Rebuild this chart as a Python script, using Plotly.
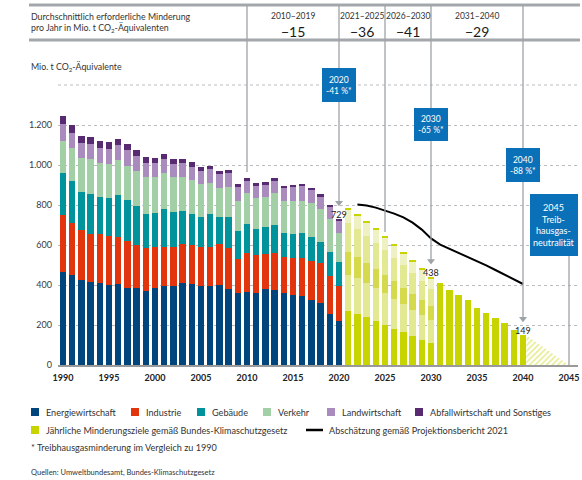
import plotly.graph_objects as go

# ---------------- data ----------------
years_hist = list(range(1990, 2021))
energie = [463, 450, 425, 415, 408, 400, 405, 387, 387, 370, 387, 397, 395, 410, 405, 397,
           397, 400, 380, 358, 367, 362, 378, 376, 358, 350, 345, 325, 312, 255, 220]
industrie = [287, 258, 250, 240, 247, 245, 237, 235, 215, 213, 205, 195, 197, 193, 197, 191,
             195, 205, 203, 170, 191, 188, 177, 182, 184, 187, 192, 197, 196, 190, 173]
gebaeude = [212, 212, 188, 198, 183, 188, 206, 203, 193, 172, 166, 186, 173, 165, 153, 154,
            163, 133, 155, 142, 145, 130, 137, 142, 116, 118, 125, 120, 109, 118, 120]
verkehr = [160, 163, 170, 175, 174, 172, 177, 172, 177, 187, 180, 180, 173, 170, 170, 163,
           153, 145, 150, 152, 155, 153, 150, 158, 164, 165, 158, 166, 161, 165, 146]
landwirtschaft = [85, 79, 77, 77, 74, 77, 73, 76, 73, 68, 72, 71, 68, 70, 67, 64,
                  70, 71, 70, 69, 62, 63, 59, 64, 64, 70, 73, 65, 66, 63, 61]
abfall = [38, 38, 37, 37, 36, 35, 34, 32, 30, 28, 27, 26, 24, 22, 21, 19,
          17, 16, 15, 14, 13, 12, 12, 11, 11, 10, 10, 10, 9, 9, 9]

years_ksg = list(range(2021, 2031))
ksg_energie = [268, 257, 238, 220, 201, 182, 164, 145, 127, 108]
ksg_industrie = [182, 177, 172, 165, 157, 149, 140, 132, 125, 118]
ksg_gebaeude = [113, 108, 102, 97, 92, 87, 82, 77, 72, 67]
ksg_verkehr = [145, 139, 134, 128, 123, 117, 112, 105, 96, 85]
ksg_landwirtschaft = [68, 67, 66, 65, 64, 63, 61, 60, 58, 56]
ksg_abfall = [9, 8, 8, 7, 7, 6, 6, 5, 5, 4]

years_ksg_total = list(range(2031, 2041))
ksg_total = [412, 375, 350, 325, 287, 262, 237, 212, 175, 149]
neutrality_year = 2045

proj_years = list(range(2022, 2041))
proj_values = [803, 797, 787, 773, 757, 738, 712, 677, 633, 602, 582, 562, 541, 520,
               498, 475, 452, 428, 405]

period_bounds = [2010, 2020, 2025, 2030, 2040]
period_labels = ["2010–2019", "2021–2025", "2026–2030", "2031–2040"]
period_values = ["−15", "−36", "−41", "−29"]

milestone_years = [2020, 2030, 2040]
milestone_texts = ["2020<br>-41 %*", "2030<br>-65 %*", "2040<br>-88 %*"]
neutrality_text = "2045<br>Treib-<br>hausgas-<br>neutralität"

sector_names = ["Energiewirtschaft", "Industrie", "Gebäude", "Verkehr",
                "Landwirtschaft", "Abfallwirtschaft und Sonstiges"]
sector_colors = ["#00457c", "#e2340d", "#00939b", "#a2cfa5", "#a98bbd", "#582a72"]
ksg_colors = ["#c8d400", "#e3e893", "#d4da4c", "#e3e893", "#eef1c2", "#c8d400"]
ksg_color = "#c8d400"

y_ticks = [0, 200, 400, 600, 800, 1000, 1200]
y_ticktext = ["0", "200", "400", "600", "800", "1.000", "1.200"]
y_top_grid = 1400
x_ticks = list(range(1990, 2046, 5))

# ---------------- geometry helpers ----------------
W, H = 582, 480
L, R, T, B = 58, 4, 5, 115
PW, PH = W - L - R, H - T - B
PX_PER_YEAR = 9.2
X0 = 1990 - (63 - L) / PX_PER_YEAR
X1 = X0 + PW / PX_PER_YEAR
Y1 = 1800  # top of plot area (value units), 5 units per px


def paper_x(px):
    return (px - L) / PW


def paper_y(py):
    return (H - B - py) / PH


def val(py):
    return (H - B - py) * Y1 / PH


def yrs(px_w):
    return px_w / PX_PER_YEAR


FONT = "Lato, Roboto, sans-serif"
TXT = "#333333"
LINEGRAY = "#9ea3a8"
BLUE = "#0a71b8"
GRIDCOL = "#bdbdbd"

fig = go.Figure()

hist_series = [energie, industrie, gebaeude, verkehr, landwirtschaft, abfall]
ksg_series = [ksg_energie, ksg_industrie, ksg_gebaeude, ksg_verkehr, ksg_landwirtschaft, ksg_abfall]
for name, vals, col in zip(sector_names, hist_series, sector_colors):
    fig.add_trace(go.Bar(x=years_hist, y=vals, name=name, marker=dict(color=col, line=dict(width=0)),
                         showlegend=False))
for name, vals, col in zip(sector_names, ksg_series, ksg_colors):
    fig.add_trace(go.Bar(x=years_ksg, y=vals, name="KSG " + name,
                         marker=dict(color=col, line=dict(width=0)), showlegend=False))
fig.add_trace(go.Bar(x=years_ksg_total, y=ksg_total, name="Jährliche Minderungsziele",
                     marker=dict(color=ksg_color, line=dict(width=0)), showlegend=False))

# hatched path to neutrality
bar_half = 0.35
fig.add_trace(go.Scatter(
    x=[years_ksg_total[-1] + bar_half, neutrality_year, years_ksg_total[-1] + bar_half],
    y=[ksg_total[-1], 0, 0], mode="lines", fill="toself", line=dict(width=0),
    fillcolor="rgba(0,0,0,0)",
    fillpattern=dict(shape="/", fgcolor=ksg_color, bgcolor="white", size=4, solidity=0.35),
    hoverinfo="skip", showlegend=False))

# projection line
fig.add_trace(go.Scatter(x=proj_years, y=proj_values, mode="lines",
                         line=dict(color="black", width=2), showlegend=False))

shapes = []
annotations = []

# top (unlabelled) gridline
shapes.append(dict(type="line", xref="paper", yref="y", x0=0, x1=1, y0=y_top_grid, y1=y_top_grid,
                   line=dict(color=GRIDCOL, width=1, dash="dot"), layer="below"))

# header lines
for py in (5, 40):
    shapes.append(dict(type="line", xref="paper", yref="paper", x0=paper_x(29), x1=paper_x(580),
                       y0=paper_y(py), y1=paper_y(py), line=dict(color="#a3a7ab", width=3)))

annotations.append(dict(xref="paper", yref="paper", x=paper_x(29), y=paper_y(22), xanchor="left",
                        yanchor="middle", align="left", showarrow=False,
                        text="Durchschnittlich erforderliche Minderung<br>pro Jahr in Mio. t CO<sub>2</sub>-Äquivalenten",
                        font=dict(family=FONT, size=8.8, color=TXT)))
for i, (lab, v) in enumerate(zip(period_labels, period_values)):
    xc = (period_bounds[i] + period_bounds[i + 1]) / 2
    annotations.append(dict(x=xc, y=val(16), xref="x", yref="y", text=lab, showarrow=False,
                            font=dict(family=FONT, size=8.5, color=TXT)))
    annotations.append(dict(x=xc, y=val(31), xref="x", yref="y", text=v, showarrow=False,
                            font=dict(family=FONT, size=14, color="#1a1a1a")))

annotations.append(dict(xref="paper", yref="paper", x=paper_x(29), y=paper_y(67), xanchor="left",
                        yanchor="middle", showarrow=False, text="Mio. t CO<sub>2</sub>-Äquivalente",
                        font=dict(family=FONT, size=8.8, color=TXT)))

# vertical separator lines without arrows
top_val = val(5)
shapes.append(dict(type="line", x0=2010, x1=2010, y0=top_val, y1=val(172),
                   line=dict(color=LINEGRAY, width=1.3)))
shapes.append(dict(type="line", x0=2025, x1=2025, y0=top_val, y1=val(232),
                   line=dict(color=LINEGRAY, width=1.3)))

# arrows to milestones + value labels
totals_2020 = sum(v[-1] for v in hist_series)
total_2030 = sum(v[-1] for v in ksg_series)
milestone_values = [totals_2020, total_2030, ksg_total[-1]]
for yr, v in zip(milestone_years, milestone_values):
    shapes.append(dict(type="line", x0=yr, x1=yr, y0=top_val, y1=v + 80,
                       line=dict(color=LINEGRAY, width=1.3)))
    annotations.append(dict(x=yr, y=v + 26, xref="x", yref="y", text=str(v), showarrow=False,
                            font=dict(family=FONT, size=9, color="#1a1a1a")))
fig.add_trace(go.Scatter(x=milestone_years, y=[v + 82 for v in milestone_values], mode="markers",
                         marker=dict(symbol="triangle-down", size=7, color=LINEGRAY),
                         hoverinfo="skip", showlegend=False))

# neutrality line
shapes.append(dict(type="line", x0=neutrality_year, x1=neutrality_year, y0=0, y1=val(256),
                   line=dict(color=LINEGRAY, width=1.3)))

# milestone boxes
box_py = [(68, 102), (108, 141), (148, 182)]
for yr, txt, (pt, pb) in zip(milestone_years, milestone_texts, box_py):
    shapes.append(dict(type="rect", x0=yr - yrs(17), x1=yr + yrs(17), y0=val(pb), y1=val(pt),
                       fillcolor=BLUE, line=dict(width=0), layer="above"))
    annotations.append(dict(x=yr, y=val((pt + pb) / 2), xref="x", yref="y", text=txt,
                            showarrow=False, font=dict(family=FONT, size=8.5, color="white")))
nb_x0 = X0 + (530 - L) / PX_PER_YEAR
nb_x1 = X0 + (578 - L) / PX_PER_YEAR
shapes.append(dict(type="rect", x0=nb_x0, x1=nb_x1, y0=val(256), y1=val(194),
                   fillcolor=BLUE, line=dict(width=0), layer="above"))
annotations.append(dict(x=(nb_x0 + nb_x1) / 2, y=val(225), xref="x", yref="y", text=neutrality_text,
                        showarrow=False, font=dict(family=FONT, size=9, color="white")))

# ---------------- manual legend ----------------
LEG = 9.1
leg1 = [(31, 44), (131, 144), (197, 210), (263, 276), (327, 340), (415, 428)]
for (sq, tx), name, col in zip(leg1, sector_names, sector_colors):
    shapes.append(dict(type="rect", xref="paper", yref="paper", x0=paper_x(sq), x1=paper_x(sq + 8),
                       y0=paper_y(416), y1=paper_y(408), fillcolor=col, line=dict(width=0)))
    annotations.append(dict(xref="paper", yref="paper", x=paper_x(tx), y=paper_y(412),
                            xanchor="left", yanchor="middle", showarrow=False, text=name,
                            font=dict(family=FONT, size=LEG, color=TXT)))
shapes.append(dict(type="rect", xref="paper", yref="paper", x0=paper_x(31), x1=paper_x(39),
                   y0=paper_y(434), y1=paper_y(426), fillcolor=ksg_color, line=dict(width=0)))
annotations.append(dict(xref="paper", yref="paper", x=paper_x(44), y=paper_y(430), xanchor="left",
                        yanchor="middle", showarrow=False,
                        text="Jährliche Minderungsziele gemäß Bundes-Klimaschutzgesetz",
                        font=dict(family=FONT, size=LEG, color=TXT)))
shapes.append(dict(type="line", xref="paper", yref="paper", x0=paper_x(306), x1=paper_x(323),
                   y0=paper_y(430), y1=paper_y(430), line=dict(color="black", width=2.5)))
annotations.append(dict(xref="paper", yref="paper", x=paper_x(327), y=paper_y(430), xanchor="left",
                        yanchor="middle", showarrow=False,
                        text="Abschätzung gemäß Projektionsbericht 2021",
                        font=dict(family=FONT, size=LEG, color=TXT)))
annotations.append(dict(xref="paper", yref="paper", x=paper_x(29), y=paper_y(447), xanchor="left",
                        yanchor="middle", showarrow=False,
                        text="* Treibhausgasminderung im Vergleich zu 1990",
                        font=dict(family=FONT, size=LEG, color=TXT)))
annotations.append(dict(xref="paper", yref="paper", x=paper_x(29), y=paper_y(472), xanchor="left",
                        yanchor="middle", showarrow=False,
                        text="Quellen: Umweltbundesamt, Bundes-Klimaschutzgesetz",
                        font=dict(family=FONT, size=7.5, color=TXT)))

fig.update_layout(
    width=W, height=H, autosize=False,
    margin=dict(l=L, r=R, t=T, b=B, pad=0),
    paper_bgcolor="white", plot_bgcolor="white",
    barmode="stack", bargap=0.3,
    showlegend=False,
    font=dict(family=FONT, color=TXT),
    shapes=shapes, annotations=annotations,
    xaxis=dict(range=[X0, X1], tickvals=x_ticks, ticks="", showgrid=False, zeroline=False,
               showline=True, linecolor="#9a9a9a", linewidth=1.5,
               tickfont=dict(family=FONT, size=9, color="#222222", weight="bold"),
               ticklabelstandoff=3),
    yaxis=dict(range=[0, Y1], tickvals=y_ticks, ticktext=y_ticktext, ticks="",
               showgrid=True, gridcolor=GRIDCOL, griddash="dot", gridwidth=1,
               zeroline=False, showline=False,
               tickfont=dict(family=FONT, size=9, color="#3a3a3a"), ticklabelstandoff=5),
)

fig.write_html("out.html", config={"displayModeBar": False},
               post_script="document.body.style.margin='0';document.body.style.padding='0';")
